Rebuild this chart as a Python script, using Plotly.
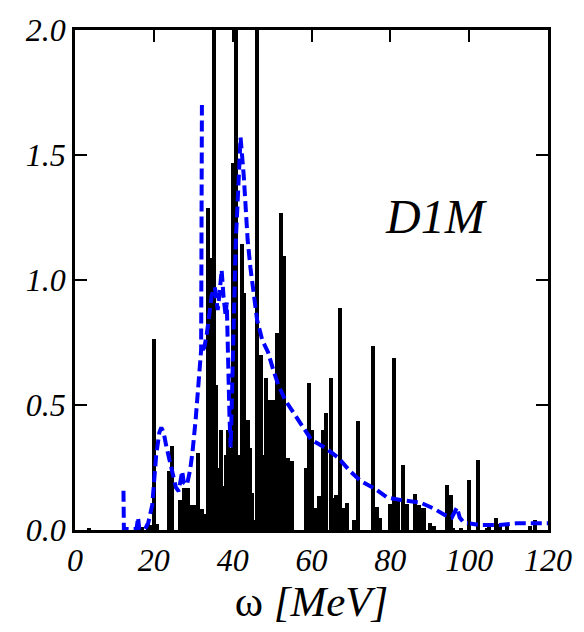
import plotly.graph_objects as go

# Discrete strength distribution (stick spectrum), energy in MeV
omega_sticks = [3.5, 17.1, 18.6, 19.3, 20.1, 20.9, 23.9, 24.7, 26.6, 27.6, 28.6, 29.6, 30.4,
                31.2, 32.2, 33.0, 33.8, 34.4, 35.2, 35.9, 36.5, 37.1, 37.9, 38.3, 38.7, 39.3,
                39.7, 40.0, 40.9, 41.6, 42.3, 42.9, 43.3, 43.8, 44.5, 44.9, 45.2, 46.1, 47.3,
                47.9, 48.4, 49.3, 49.8, 50.3, 50.8, 51.2, 52.3, 53.0, 53.5,
                54.0, 55.0, 58.6, 59.4, 60.2, 61.0, 61.8, 62.8, 63.7, 64.9, 65.8, 66.3, 67.2,
                68.0, 69.0, 70.8, 71.7, 75.5, 76.5, 77.5, 80.0, 81.0, 82.0, 83.3, 84.3, 86.3,
                87.2, 88.0, 88.6, 90.0, 91.0, 94.3, 95.3, 96.0, 98.0, 99.9, 102.3, 104.5,
                105.0, 106.8, 107.8, 109.5, 115.5, 116.8]
strength_sticks = [0.008, 0.012, 0.03, 0.02, 0.766, 0.025, 0.235, 0.337, 0.12, 0.17, 0.17, 0.10, 0.10,
                   0.31, 0.085, 0.065, 1.29, 1.09, 2.4, 0.58, 0.25, 0.40, 0.175, 0.30, 0.40, 0.33,
                   0.20, 1.47, 2.4, 0.30, 1.145, 0.95, 0.35, 0.44, 0.33, 0.15, 0.04, 2.4, 0.70,
                   0.30, 0.61, 0.52, 0.25, 0.52, 0.30, 0.79, 1.27, 1.095, 0.25,
                   0.29, 0.275, 0.25, 0.59, 0.40, 0.09, 0.135, 0.40, 0.47, 0.61, 0.13, 0.14, 0.89,
                   0.09, 0.11, 0.04, 0.435, 0.735, 0.094, 0.05, 0.105, 0.69, 0.13, 0.26, 0.105, 0.145,
                   0.10, 0.09, 0.09, 0.03, 0.015, 0.18, 0.14, 0.008, 0.01, 0.20, 0.28, 0.005,
                   0.017, 0.05, 0.024, 0.024, 0.015, 0.04]

# Smoothed response (continuum), energy in MeV; None breaks the line after the narrow spike
omega_smooth = [12.3, 12.4, 15.6, 16.0, 16.3, 17.8, 18.6, 19.6, 20.6, 21.4, 21.9, 22.5, 23.1, 24.4,
                25.6, 26.3, 26.9, 27.2, 27.6, 28.4, 29.2, 29.8, 30.6, 31.2, 31.6, 32.0, 32.2,
                None, 32.35, 32.8, 33.4, 34.0, 34.7, 35.5, 36.2, 36.7, 37.2, 37.7, 38.2, 38.5, 38.8,
                39.2, 39.5, 39.9, 40.4, 40.8, 41.2, 41.5, 42.0, 42.8, 43.3, 43.8, 44.5, 45.3,
                46.2, 47.5, 49.0, 50.3, 51.6, 53.3, 55.8, 57.9, 60.0, 63.4, 66.7, 69.8, 72.5,
                76.0, 79.2, 83.5, 87.6, 91.0, 93.8, 95.6, 96.9, 97.6, 98.6, 102.7, 107.7, 112.0,
                116.2, 120.0]
response_smooth = [0.157, 0.004, 0.004, 0.05, 0.004, 0.004, 0.03, 0.10, 0.30, 0.39, 0.41, 0.39, 0.34, 0.25,
                   0.17, 0.155, 0.20, 0.235, 0.19, 0.18, 0.24, 0.31, 0.44, 0.58, 0.68, 0.72, 1.70,
                   None, 0.72, 0.73, 0.78, 0.86, 0.94, 0.97, 0.88, 0.95, 1.04, 0.93, 0.86, 0.91, 0.62,
                   0.45, 0.33, 0.60, 0.95, 1.16, 1.29, 1.41, 1.57, 1.42, 1.29, 1.16, 1.05, 0.94,
                   0.84, 0.76, 0.71, 0.64, 0.58, 0.52, 0.46, 0.41, 0.36, 0.33, 0.29, 0.235, 0.196,
                   0.166, 0.13, 0.118, 0.11, 0.086, 0.06, 0.05, 0.09, 0.05, 0.03, 0.02, 0.02, 0.027,
                   0.027, 0.027]

x_ticks = [0, 20, 40, 60, 80, 100, 120]
y_ticks = [0.0, 0.5, 1.0, 1.5, 2.0]

SERIF = "Liberation Serif"

fig = go.Figure()
fig.add_trace(go.Bar(x=omega_sticks, y=strength_sticks, width=1.0,
                     marker=dict(color="black", line=dict(width=0)), showlegend=False))
fig.add_trace(go.Scatter(x=omega_smooth, y=response_smooth, mode="lines", connectgaps=False,
                         line=dict(color="#0000ff", width=4, dash="11px,5px"),
                         showlegend=False))

axis_common = dict(showgrid=False, zeroline=False, showline=True, linecolor="black", linewidth=2.5,
                   mirror="allticks", ticks="inside", ticklen=12, tickwidth=1.8, tickcolor="black",
                   tickfont=dict(family=SERIF, size=32, color="black"))

fig.update_xaxes(range=[0, 120], tickvals=x_ticks,
                 ticktext=[f"<i>{v}</i>" for v in x_ticks],
                 title=dict(text="ω <i>[MeV]</i>", font=dict(family=SERIF, size=43, color="black"),
                            standoff=8),
                 **axis_common)
fig.update_yaxes(range=[0, 2.0], tickvals=y_ticks,
                 ticktext=[f"<i>{v:.1f}</i>" for v in y_ticks],
                 **axis_common)

fig.add_annotation(x=0.765, y=0.628, xref="paper", yref="paper", xanchor="center", yanchor="middle",
                   text="<i>D1M</i>", showarrow=False,
                   font=dict(family=SERIF, size=48, color="black"))

fig.update_layout(width=584, height=632, margin=dict(l=75, r=32, t=20, b=102),
                  plot_bgcolor="white", paper_bgcolor="white", bargap=0)

fig.write_html("out.html")
